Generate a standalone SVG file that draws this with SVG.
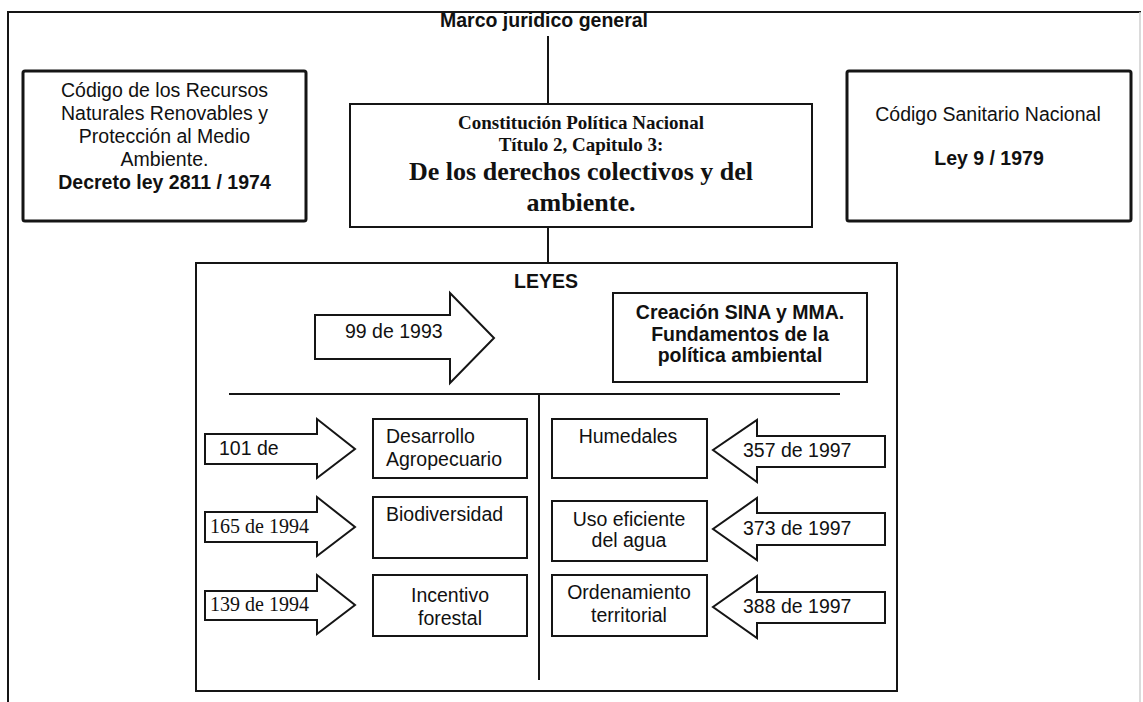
<svg xmlns="http://www.w3.org/2000/svg" width="1143" height="702" viewBox="0 0 1143 702">
<style>
.box{fill:#fff;stroke:#151515;stroke-width:2}
.tbox{fill:#fff;stroke:#151515;stroke-width:3;}
.ln{fill:none;stroke:#151515;stroke-width:2}
.arr{fill:#fff;stroke:#151515;stroke-width:2;stroke-linejoin:miter}
.s{font-family:"Liberation Sans",Arial,sans-serif;font-size:19.5px;fill:#111}
.sb{font-family:"Liberation Sans",Arial,sans-serif;font-size:19.5px;font-weight:bold;fill:#111}
.t{font-family:"Liberation Serif","Times New Roman",serif;fill:#111}
.c{text-anchor:middle}
</style>
<rect width="1143" height="702" fill="#fff"/>
<g id="frame">
<polyline class="ln" points="8,702 8,12 1141,12" stroke-width="1.8"/>
<line x1="1140" y1="12" x2="1140" y2="702" stroke="#cfcfcf" stroke-width="1.5"/>
</g>
<g id="title">
<text class="sb c" x="544" y="27" font-size="21">Marco juridico general</text>
</g>
<g id="codigo-recursos">
<rect class="tbox" x="23" y="71" width="283" height="150" rx="2"/>
<text class="s c" x="164.5" y="97">Código de los Recursos</text>
<text class="s c" x="164.5" y="120">Naturales Renovables y</text>
<text class="s c" x="164.5" y="143">Protección al Medio</text>
<text class="s c" x="164.5" y="166">Ambiente.</text>
<text class="sb c" x="164.5" y="189">Decreto ley 2811 / 1974</text>
</g>
<g id="constitucion">
<rect class="box" x="350" y="104" width="462" height="123"/>
<text class="t c" x="581" y="129" font-size="19" font-weight="bold">Constitución Política Nacional</text>
<text class="t c" x="581" y="151" font-size="19" font-weight="bold">Título 2, Capitulo 3:</text>
<text class="t c" x="581" y="180" font-size="26" font-weight="bold">De los derechos colectivos y del</text>
<text class="t c" x="581" y="211" font-size="26" font-weight="bold">ambiente.</text>
</g>
<g id="codigo-sanitario">
<rect class="tbox" x="847" y="71" width="284" height="150" rx="2"/>
<text class="s c" x="988" y="121">Código Sanitario Nacional</text>
<text class="sb c" x="989" y="165">Ley 9 / 1979</text>
</g>
<g id="leyes">
<rect class="box" x="196" y="263" width="701" height="428"/>
<text class="sb c" x="546" y="288">LEYES</text>
</g>
<g id="connectors">
<line class="ln" x1="548" y1="36" x2="548" y2="104"/>
<line class="ln" x1="548" y1="227" x2="548" y2="263"/>
<line class="ln" x1="229" y1="394" x2="840" y2="394"/>
<line class="ln" x1="539" y1="394" x2="539" y2="680"/>
</g>
<g id="ley-99">
<polygon class="arr" points="315,315 450,315 450,293 494,338 450,383 450,359 315,359"/>
<text class="s" x="345" y="338">99 de 1993</text>
</g>
<g id="sina">
<rect class="box" x="613" y="293" width="254" height="89"/>
<text class="sb c" x="740" y="319">Creación SINA y MMA.</text>
<text class="sb c" x="740" y="341">Fundamentos de la</text>
<text class="sb c" x="740" y="362">política ambiental</text>
</g>
<g id="ley-101">
<polygon class="arr" points="205,434 317,434 317,419 355,449 317,478 317,464 205,464"/>
<text class="s" x="219" y="455">101 de</text>
</g>
<g id="desarrollo">
<rect class="box" x="373" y="419" width="154" height="59"/>
<text class="s" x="386" y="443">Desarrollo</text>
<text class="s" x="386" y="466">Agropecuario</text>
</g>
<g id="ley-165">
<polygon class="arr" points="205,512 317,512 317,497 355,527 317,556 317,542 205,542"/>
<text class="t" x="210" y="533" font-size="20">165 de 1994</text>
</g>
<g id="biodiversidad">
<rect class="box" x="373" y="497" width="154" height="61"/>
<text class="s" x="386" y="521">Biodiversidad</text>
</g>
<g id="ley-139">
<polygon class="arr" points="205,591 317,591 317,575 355,605 317,634 317,620 205,620"/>
<text class="t" x="210" y="611" font-size="20">139 de 1994</text>
</g>
<g id="incentivo">
<rect class="box" x="373" y="575" width="154" height="61"/>
<text class="s c" x="450" y="602">Incentivo</text>
<text class="s c" x="450" y="625">forestal</text>
</g>
<g id="humedales">
<rect class="box" x="552" y="419" width="155" height="59"/>
<text class="s c" x="628" y="443">Humedales</text>
</g>
<g id="ley-357">
<polygon class="arr" points="885,436 757,436 757,420 713,450 757,482 757,467 885,467"/>
<text class="s" x="743" y="457">357 de 1997</text>
</g>
<g id="uso-agua">
<rect class="box" x="552" y="501" width="155" height="60"/>
<text class="s c" x="629" y="526">Uso eficiente</text>
<text class="s c" x="629" y="547">del agua</text>
</g>
<g id="ley-373">
<polygon class="arr" points="885,513 757,513 757,498 713,529 757,560 757,545 885,545"/>
<text class="s" x="743" y="535">373 de 1997</text>
</g>
<g id="ordenamiento">
<rect class="box" x="552" y="575" width="155" height="61"/>
<text class="s c" x="629" y="599">Ordenamiento</text>
<text class="s c" x="629" y="622">territorial</text>
</g>
<g id="ley-388">
<polygon class="arr" points="885,592 757,592 757,576 713,607 757,638 757,623 885,623"/>
<text class="s" x="743" y="613">388 de 1997</text>
</g>
</svg>
